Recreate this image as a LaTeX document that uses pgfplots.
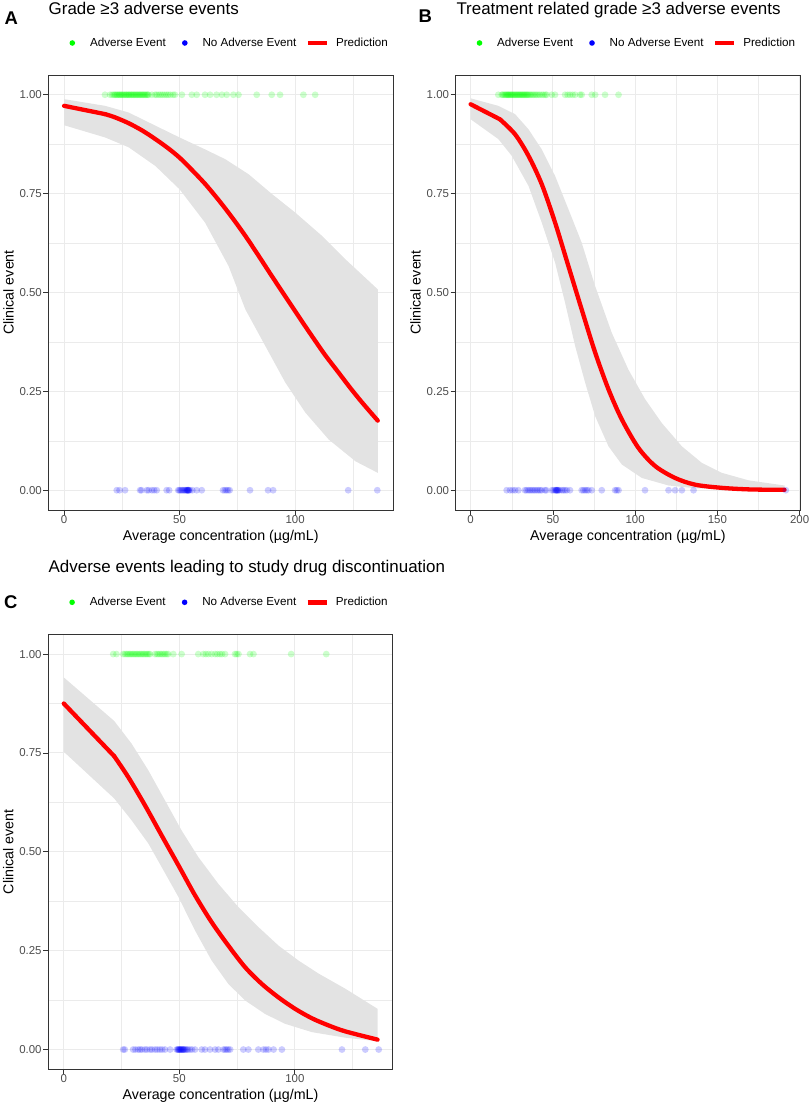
\documentclass[border=0pt]{standalone}
\usepackage{fontspec}
\setmainfont{Liberation Sans}
\usepackage{pgfplots}
\pgfplotsset{compat=1.18}
\usepgfplotslibrary{fillbetween}

\definecolor{ribbon}{RGB}{227,227,227}
\definecolor{gridc}{RGB}{235,235,235}
\definecolor{framec}{RGB}{51,51,51}
\definecolor{ticklab}{RGB}{77,77,77}
\definecolor{ggreen}{RGB}{0,255,0}
\definecolor{gblue}{RGB}{0,0,255}
\definecolor{gred}{RGB}{255,0,0}

\pgfplotsset{
 panel/.style={
  scale only axis, width=344.5bp, height=435bp,
  anchor=north west,
  ymin=-0.05, ymax=1.05,
  ytick={0,0.25,0.5,0.75,1}, yticklabels={0.00,0.25,0.50,0.75,1.00},
  minor ytick={0.125,0.375,0.625,0.875},
  grid=both,
  major grid style={gridc, line width=1bp},
  minor grid style={gridc, line width=0.55bp},
  axis line style={framec, line width=0.8bp},
  tick align=outside, major tick length=5bp, minor tick length=0pt,
  tick style={framec, line width=0.8bp},
  tick pos=left,
  tick label style={font=\fontsize{11.5}{13}\selectfont, text=ticklab, inner sep=0pt},
  yticklabel style={xshift=-1.5bp},
  xlabel={Average concentration (µg/mL)},
  ylabel={Clinical event},
  every axis x label/.style={at={(axis description cs:0.5,-0.069)}, anchor=base,
    font=\fontsize{14.3}{16}\selectfont},
  every axis y label/.style={at={(axis description cs:-0.1015,0.5)}, rotate=90, anchor=base,
    font=\fontsize{14.3}{16}\selectfont},
  legend columns=3,
  legend style={at={(axis description cs:0.0401,1.0736)}, anchor=west, draw=none, fill=none,
    inner sep=0pt, outer sep=0pt, nodes={inner sep=0pt},
    font=\fontsize{11.7}{13}\selectfont,
    /tikz/every even column/.append style={column sep=9bp}},
  legend cell align=left,
 },
 pts/.style={only marks, mark=*, mark size=3.4bp, forget plot, draw=#1,
   mark options={draw opacity=0, fill=#1, fill opacity=0.2}},
 band/.style={draw=none, forget plot},
 pred/.style={gred, line width=4.3bp, forget plot, line join=round, line cap=round},
}
\newcommand{\legendkeys}{%
  \addlegendimage{legend image code/.code={\path[draw=none] (-10bp,0) -- (17.7bp,0); \fill[ggreen, draw=none] (0,0) circle (2.8bp);}}
  \addlegendentry{Adverse Event}
  \addlegendimage{legend image code/.code={\path[draw=none] (-10bp,0) -- (17.7bp,0); \fill[gblue, draw=none] (0,0) circle (2.8bp);}}
  \addlegendentry{No Adverse Event}
  \addlegendimage{legend image code/.code={\path[draw=none] (0,0) -- (28.2bp,0); \draw[gred, line width=4.8bp] (0,0) -- (19bp,0);}}
  \addlegendentry{Prediction}
}

\begin{document}
\begin{tikzpicture}

% ---------------- Panel A ----------------
\begin{axis}[panel, at={(48.5bp,-75bp)},
  xmin=-6.75, xmax=142.4, xtick={0,50,100}, xticklabels={0,50,100},
  minor xtick={25,75,125}]
\legendkeys
\addplot[band, name path=upA] coordinates {
(0,0.989) (17.8,0.972) (28,0.955) (39.5,0.922) (50,0.892) (61,0.862) (69.8,0.837)
(79.9,0.799) (90,0.749) (100.1,0.702) (111.7,0.643) (121.8,0.584) (135.8,0.508)};
\addplot[band, name path=loA] coordinates {
(0,0.923) (17.8,0.892) (28,0.867) (39.5,0.820) (50,0.761) (61,0.677) (71.2,0.567)
(78.5,0.457) (87.1,0.365) (95.8,0.272) (104.5,0.196) (114.6,0.128) (126.2,0.073) (135.8,0.044)};
\addplot[fill=ribbon, draw=none, forget plot] fill between[of=upA and loA];
\addplot[pred] coordinates {(0,0.972) (17.8,0.951)};
\addplot[pred, smooth, tension=0.5] coordinates {
(17.8,0.951) (22,0.943) (28,0.928) (34,0.909) (39.5,0.888) (45,0.865) (50,0.841)
(55,0.812) (61,0.775) (67,0.733) (72.7,0.690) (78.5,0.643) (84.2,0.593) (90,0.541) (95.8,0.490)
(101.6,0.439) (107.4,0.389) (113,0.342) (118.9,0.297) (124,0.258) (129,0.222) (135.8,0.176)};
\addplot[pts=ggreen] coordinates {
(17.7,1) (19.9,1) (20.8,1) (21.5,1) (22.0,1) (22.4,1) (22.9,1) (23.3,1) (23.8,1) (24.1,1)
(24.6,1) (25.0,1) (25.4,1) (25.9,1) (26.3,1) (26.8,1) (27.1,1) (27.6,1) (28.0,1) (28.3,1)
(28.9,1) (29.2,1) (29.7,1) (30.1,1) (30.5,1) (31.0,1) (31.4,1) (31.8,1) (32.3,1) (32.7,1)
(33.1,1) (33.6,1) (34.0,1) (34.4,1) (34.9,1) (35.3,1) (35.8,1) (36.2,1) (36.6,1) (38.0,1)
(39.4,1) (40.1,1) (41.0,1) (41.8,1) (42.6,1) (43.5,1) (44.3,1) (45.1,1) (46.0,1) (47.2,1)
(48.0,1) (51.0,1) (55.3,1) (57.4,1) (61.0,1) (63.2,1) (66.0,1) (68.3,1) (70.4,1) (73.3,1)
(75.5,1) (83.4,1) (89.9,1) (93.5,1) (103.6,1) (108.7,1)};
\addplot[pts=gblue] coordinates {
(22.8,0) (24.0,0) (26.4,0) (32.9,0) (33.5,0) (35.8,0) (36.6,0) (38.0,0) (39.0,0) (40.1,0)
(44.4,0) (45.5,0) (49.4,0) (49.9,0) (50.4,0) (50.9,0) (51.3,0) (51.8,0) (52.2,0) (52.6,0)
(53.0,0) (53.2,0) (53.4,0) (53.5,0) (53.8,0) (53.9,0) (54.0,0) (54.5,0) (55.5,0) (57.4,0)
(59.6,0) (68.8,0) (69.6,0) (70.3,0) (71.0,0) (71.7,0) (80.5,0) (88.3,0) (90.5,0) (123.0,0)
(135.6,0)};
\end{axis}

% ---------------- Panel B ----------------
\begin{axis}[panel, at={(455.7bp,-75bp)},
  xmin=-9.1, xmax=200.35, xtick={0,50,100,150,200}, xticklabels={0,50,100,150,200},
  minor xtick={25,75,125,175}]
\legendkeys
\addplot[band, name path=upB] coordinates {
(0,0.991) (16.8,0.972) (27,0.951) (35.1,0.913) (43.2,0.862) (51.3,0.795) (59.4,0.711)
(67.5,0.626) (75.7,0.516) (85.8,0.398) (95.9,0.305) (106.1,0.230) (116.2,0.170) (128.4,0.111)
(140.6,0.069) (152.7,0.044) (169,0.025) (190.8,0.012)};
\addplot[band, name path=loB] coordinates {
(0,0.938) (16.8,0.888) (24.9,0.846) (35.1,0.770) (43.2,0.677) (51.3,0.576) (57.4,0.474)
(63.5,0.365) (69.6,0.272) (75.7,0.187) (83.8,0.111) (91.9,0.065) (104.1,0.031) (120.3,0.012)
(136.5,0.005) (190.8,0.0)};
\addplot[fill=ribbon, draw=none, forget plot] fill between[of=upB and loB];
\addplot[pred] coordinates {(0,0.976) (17.8,0.938)};
\addplot[pred, smooth, tension=0.5] coordinates {
(17.8,0.938) (27,0.900) (35.1,0.846) (43.2,0.774) (51.3,0.677) (59.4,0.567)
(67.5,0.457) (75.7,0.348) (83.8,0.255) (91.9,0.179) (102,0.107) (112.2,0.061) (124.3,0.031)
(136.5,0.014) (152.7,0.006) (170,0.002) (190.8,0.001)};
\addplot[pts=ggreen] coordinates {
(16.8,1) (18.9,1) (19.5,1) (20.2,1) (20.9,1) (21.5,1) (22.0,1) (22.6,1) (22.9,1) (23.4,1)
(24.0,1) (24.5,1) (25.0,1) (25.6,1) (26.1,1) (26.7,1) (27.2,1) (27.8,1) (28.3,1) (28.9,1)
(29.4,1) (30.0,1) (30.5,1) (31.1,1) (31.6,1) (32.2,1) (32.7,1) (33.3,1) (33.9,1) (34.4,1)
(35.0,1) (35.7,1) (36.5,1) (37.3,1) (38.2,1) (39.1,1) (40.0,1) (41.0,1) (42.0,1) (43.2,1)
(44.3,1) (45.4,1) (46.2,1) (49.3,1) (51.3,1) (57.4,1) (59.0,1) (60.4,1) (62.0,1) (63.5,1)
(66.5,1) (67.5,1) (73.6,1) (75.7,1) (81.7,1) (89.9,1)};
\addplot[pts=gblue] coordinates {
(21.9,0) (23.9,0) (25.5,0) (27.0,0) (29.0,0) (33.0,0) (34.0,0) (35.1,0) (36.1,0) (37.1,0)
(38.1,0) (39.1,0) (40.2,0) (41.2,0) (42.2,0) (43.2,0) (45.2,0) (46.0,0) (49.3,0) (50.3,0)
(51.3,0) (51.8,0) (52.0,0) (52.3,0) (52.6,0) (53.0,0) (53.3,0) (54.0,0) (55.4,0) (56.4,0)
(57.4,0) (58.5,0) (60.4,0) (67.5,0) (68.5,0) (69.6,0) (70.6,0) (71.6,0) (73.6,0) (79.7,0)
(87.8,0) (88.8,0) (89.9,0) (106.0,0) (120.3,0) (124.3,0) (128.4,0) (135.5,0) (191.6,0)};
\end{axis}

% ---------------- Panel C ----------------
\begin{axis}[panel, at={(48.3bp,-634.3bp)},
  xmin=-6.7, xmax=142.4, xtick={0,50,100}, xticklabels={0,50,100},
  minor xtick={25,75,125}]
\legendkeys
\addplot[band, name path=upC] coordinates {
(0,0.941) (21.8,0.831) (29.3,0.774) (36.6,0.706) (43.8,0.630) (51,0.554) (58.2,0.487)
(66.9,0.419) (75.6,0.360) (84.2,0.310) (92.9,0.263) (101.6,0.225) (110.3,0.192) (121.8,0.154)
(135.8,0.103)};
\addplot[band, name path=loC] coordinates {
(0,0.753) (21.8,0.635) (29.3,0.580) (36.6,0.521) (42.3,0.462) (49.6,0.386) (56.8,0.301)
(64,0.225) (71.2,0.166) (78.5,0.124) (87.1,0.090) (95.8,0.065) (107.4,0.044) (121.8,0.030)
(135.8,0.021)};
\addplot[fill=ribbon, draw=none, forget plot] fill between[of=upC and loC];
\addplot[pred] coordinates {(0,0.875) (21.8,0.742)};
\addplot[pred, smooth, tension=0.5] coordinates {
(21.8,0.742) (27.9,0.689) (35.1,0.618) (42.3,0.542) (49.6,0.466) (56.8,0.390)
(64,0.322) (71.2,0.263) (78.5,0.208) (85.7,0.166) (92.9,0.132) (100.1,0.103) (107.4,0.079)
(114.6,0.061) (121.8,0.046) (135.8,0.025)};
\addplot[pts=ggreen] coordinates {
(21.4,1) (22.8,1) (25.7,1) (26.5,1) (27.2,1) (27.8,1) (28.4,1) (29.0,1) (29.6,1) (30.2,1)
(30.8,1) (31.4,1) (32.0,1) (32.6,1) (33.2,1) (33.8,1) (34.4,1) (35.0,1) (35.6,1) (36.2,1)
(36.8,1) (37.3,1) (39.5,1) (40.3,1) (41.0,1) (41.7,1) (42.4,1) (43.1,1) (43.8,1) (44.5,1)
(45.2,1) (47.4,1) (51.0,1) (58.2,1) (60.4,1) (61.5,1) (62.6,1) (64.0,1) (65.5,1) (66.5,1)
(67.6,1) (68.5,1) (69.8,1) (74.1,1) (74.8,1) (75.6,1) (80.6,1) (82.1,1) (98.4,1) (113.6,1)};
\addplot[pts=gblue] coordinates {
(25.7,0) (26.4,0) (30.0,0) (31.0,0) (32.2,0) (33.0,0) (33.8,0) (35.1,0) (36.0,0) (37.3,0)
(38.2,0) (39.5,0) (40.5,0) (41.6,0) (42.6,0) (43.8,0) (46.0,0) (48.8,0) (49.3,0) (49.5,0)
(49.8,0) (50.0,0) (50.3,0) (50.5,0) (50.7,0) (51.0,0) (51.2,0) (51.5,0) (51.7,0) (52.0,0)
(52.2,0) (52.7,0) (53.2,0) (53.7,0) (54.6,0) (55.5,0) (56.8,0) (59.7,0) (61.1,0) (63.3,0)
(65.5,0) (66.9,0) (69.1,0) (69.8,0) (70.5,0) (71.2,0) (72.0,0) (77.7,0) (79.9,0) (84.2,0)
(86.4,0) (87.5,0) (88.6,0) (90.8,0) (94.4,0) (120.4,0) (130.5,0) (136.3,0)};
\end{axis}

% titles and panel letters
\node[anchor=base west, inner sep=0pt, font=\fontsize{17}{20}\selectfont] at (48.5bp,-14bp) {Grade ≥3 adverse events};
\node[anchor=base west, inner sep=0pt, font=\fontsize{17}{20}\selectfont] at (456.3bp,-14bp) {Treatment related grade ≥3 adverse events};
\node[anchor=base west, inner sep=0pt, font=\fontsize{17}{20}\selectfont] at (48.5bp,-572.7bp) {Adverse events leading to study drug discontinuation};
\node[anchor=base west, inner sep=0pt, font=\fontsize{18.5}{20}\selectfont\bfseries] at (4.5bp,-24bp) {A};
\node[anchor=base west, inner sep=0pt, font=\fontsize{18.5}{20}\selectfont\bfseries] at (418.5bp,-22.7bp) {B};
\node[anchor=base west, inner sep=0pt, font=\fontsize{18.5}{20}\selectfont\bfseries] at (4bp,-608.3bp) {C};

\pgfresetboundingbox
\useasboundingbox (0,0) rectangle (809bp,-1105bp);
\end{tikzpicture}
\end{document}
